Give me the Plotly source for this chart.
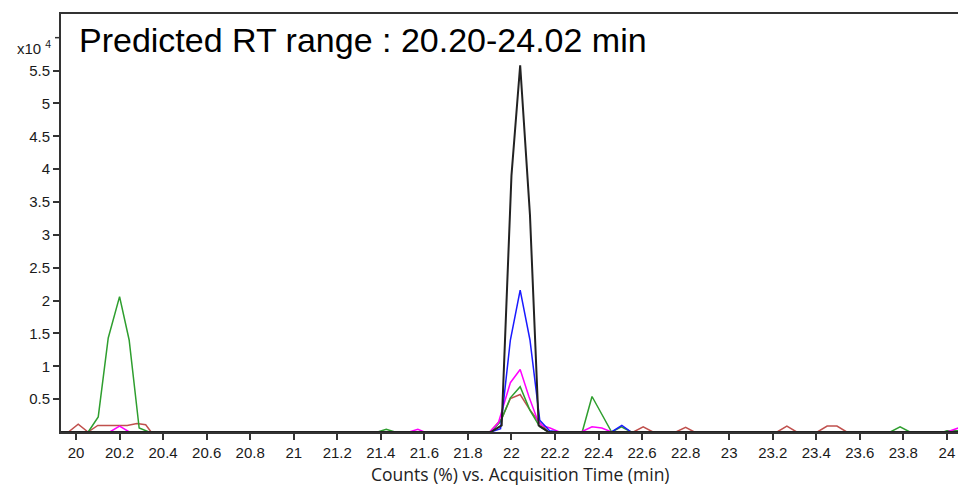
import plotly.graph_objects as go

# ---------------- data (Counts x10^4 vs acquisition time, min) ----------------
t_red = [19.93, 19.965, 20.01, 20.055, 20.1, 20.145, 20.19, 20.235, 20.28, 20.32, 20.345,
         21.9, 21.955, 21.995, 22.04, 22.08, 22.125, 22.17,
         22.56, 22.605, 22.65, 22.755, 22.8, 22.84, 23.22, 23.265, 23.31,
         23.405, 23.45, 23.495, 23.54, 24.06]
y_red = [0, 0, 0.12, 0, 0.10, 0.10, 0.10, 0.10, 0.13, 0.11, 0,
         0, 0.20, 0.51, 0.57, 0.36, 0.16, 0,
         0, 0.08, 0, 0, 0.07, 0, 0, 0.09, 0,
         0, 0.09, 0.09, 0, 0]

t_green = [19.93, 20.056, 20.102, 20.148, 20.2, 20.244, 20.29, 20.335,
           21.385, 21.425, 21.465,
           21.905, 21.95, 21.995, 22.04, 22.085, 22.13, 22.17,
           22.325, 22.37, 22.415, 22.46, 22.505, 22.55,
           23.74, 23.785, 23.83, 23.985, 24.0, 24.04, 24.06]
y_green = [0, 0, 0.23, 1.43, 2.06, 1.40, 0.06, 0,
           0, 0.04, 0,
           0, 0.16, 0.52, 0.69, 0.33, 0.08, 0,
           0, 0.54, 0.27, 0, 0.08, 0,
           0, 0.08, 0, 0, 0.02, 0.02, 0.02]

t_magenta = [19.93, 20.155, 20.2, 20.245, 21.53, 21.57, 21.6,
             21.9, 21.94, 21.995, 22.04, 22.08, 22.12, 22.14, 22.177, 22.22,
             22.32, 22.37, 22.415, 22.46, 24.0, 24.06]
y_magenta = [0, 0, 0.09, 0, 0, 0.04, 0,
             0, 0.14, 0.75, 0.95, 0.54, 0.18, 0.10, 0.06, 0,
             0, 0.08, 0.06, 0, 0, 0.07]

t_blue = [19.93, 21.905, 21.95, 21.995, 22.04, 22.085, 22.13, 22.175, 22.22,
          22.46, 22.507, 22.55, 24.06]
y_blue = [0, 0, 0.05, 1.40, 2.16, 1.40, 0.18, 0.02, 0,
          0, 0.10, 0, 0]

t_black = [19.93, 21.905, 21.955, 22.0, 22.04, 22.085, 22.125, 22.17, 24.06]
y_black = [0, 0, 0.10, 3.9, 5.58, 3.3, 0.10, 0, 0]

y_tickvals = [0.5, 1, 1.5, 2, 2.5, 3, 3.5, 4, 4.5, 5, 5.5]
y_ticktext = ["0.5", "1", "1.5", "2", "2.5", "3", "3.5", "4", "4.5", "5", "5.5"]
y_exponent_tick = 6

title_text = "Predicted RT range : 20.20-24.02 min"
x_title = "Counts (%) vs. Acquisition Time (min)"
exp_label = "x10 <sup>4</sup>"

# ---------------- figure ----------------
fig = go.Figure()
series = [
    (t_red, y_red, "#c0504d", 1.5),
    (t_green, y_green, "#2e9e2e", 1.5),
    (t_magenta, y_magenta, "#ff00ff", 1.5),
    (t_blue, y_blue, "#1a1aff", 1.5),
    (t_black, y_black, "#222222", 2.0),
]
for t, y, c, w in series:
    fig.add_trace(go.Scatter(x=t, y=y, mode="lines", line=dict(color=c, width=w),
                             hoverinfo="skip", showlegend=False))

tick_font = dict(family="Liberation Sans, Arial, sans-serif", size=15, color="#1a1a1a")

fig.update_layout(
    width=958, height=486,
    margin=dict(l=61, r=0, t=14, b=54),
    paper_bgcolor="white", plot_bgcolor="white",
    xaxis=dict(range=[19.931, 24.051], tick0=20, dtick=0.2, tickformat="~r",
               showgrid=False, zeroline=False,
               showline=True, linecolor="#333", linewidth=2, mirror=True,
               ticks="outside", ticklen=6, tickwidth=1.5, tickcolor="#333",
               tickfont=tick_font),
    yaxis=dict(range=[0, 6.36], tickvals=y_tickvals, ticktext=y_ticktext,
               showgrid=False, zeroline=False,
               showline=True, linecolor="#333", linewidth=2,
               ticks="outside", ticklen=6, tickwidth=1.5, tickcolor="#333",
               tickfont=tick_font),
)

# tick mark carrying the exponent label
fig.add_shape(type="line", xref="paper", yref="y", x0=-6 / 897, x1=0,
              y0=y_exponent_tick, y1=y_exponent_tick, line=dict(color="#333", width=1.5))

fig.add_annotation(xref="paper", yref="y", x=0, y=y_exponent_tick, xanchor="right", yanchor="middle",
                   xshift=-8, yshift=-10, showarrow=False,
                   text=exp_label, font=dict(family="Liberation Sans, Arial, sans-serif", size=15, color="#1a1a1a"))

fig.add_annotation(xref="paper", yref="paper", x=(77 - 61) / 897, y=1 - (40 - 14) / 418,
                   xanchor="left", yanchor="middle", showarrow=False,
                   text=title_text, font=dict(family="Liberation Sans, Arial, sans-serif", size=34, color="#000"))

fig.add_annotation(xref="paper", yref="paper", x=(520 - 61) / 897, y=0, yshift=-42,
                   xanchor="center", yanchor="middle", showarrow=False,
                   text=x_title, font=dict(family="Open Sans, sans-serif", size=17.5, color="#222"))

fig.write_html("out.html")
